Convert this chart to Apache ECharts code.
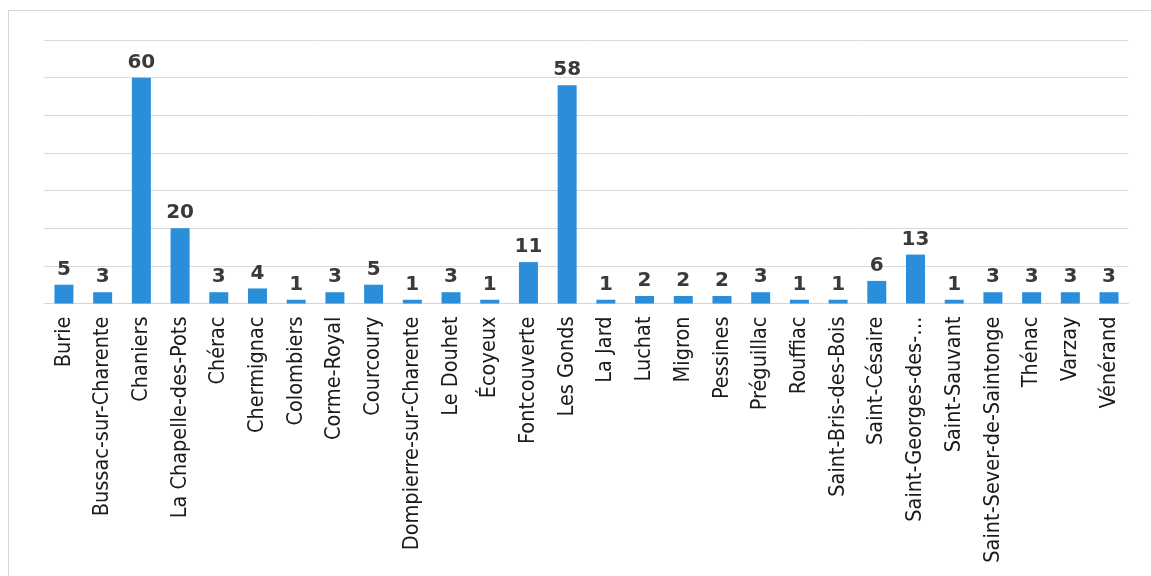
<!DOCTYPE html>
<html>
<head>
<meta charset="utf-8">
<script src="https://cdn.jsdelivr.net/npm/echarts@6/dist/echarts.min.js"></script>
<style>
  html, body { margin: 0; padding: 0; background: #ffffff; }
  #wrap { position: relative; width: 1151px; height: 576px; overflow: hidden; background: #ffffff; }
  #frame { position: absolute; left: 8px; top: 10px; width: 1150px; height: 580px; border: 1px solid #d6d6df; box-sizing: border-box; }
  #chart { position: absolute; left: 0; top: 0; width: 1151px; height: 576px; }
</style>
</head>
<body>
<div id="wrap">
  <div id="frame"></div>
  <div id="chart"></div>
</div>
<script>
// Communes and their counts
const communes = [
  'Burie', 'Bussac-sur-Charente', 'Chaniers', 'La Chapelle-des-Pots', 'Chérac',
  'Chermignac', 'Colombiers', 'Corme-Royal', 'Courcoury', 'Dompierre-sur-Charente',
  'Le Douhet', 'Écoyeux', 'Fontcouverte', 'Les Gonds', 'La Jard', 'Luchat',
  'Migron', 'Pessines', 'Préguillac', 'Rouffiac', 'Saint-Bris-des-Bois',
  'Saint-Césaire', 'Saint-Georges-des-…', 'Saint-Sauvant', 'Saint-Sever-de-Saintonge',
  'Thénac', 'Varzay', 'Vénérand'
];
const counts = [
  5, 3, 60, 20, 3,
  4, 1, 3, 5, 1,
  3, 1, 11, 58, 1, 2,
  2, 2, 3, 1, 1,
  6, 13, 1, 3,
  3, 3, 3
];
const yMin = 0;
const yMax = 70;
const yStep = 10;

const chart = echarts.init(document.getElementById('chart'), null, { renderer: 'canvas' });
chart.setOption({
  backgroundColor: 'transparent',
  animation: false,
  grid: {
    left: 44.6, right: 22.6, top: 40, bottom: 272.5,
    containLabel: false,
    outerBoundsMode: 'none'
  },
  xAxis: {
    type: 'category',
    data: communes,
    axisLine: { show: true, lineStyle: { color: '#d4d4d4', width: 1 } },
    axisTick: { show: false },
    axisLabel: {
      interval: 0,
      rotate: 90,
      margin: 13,
      color: '#1a1a1a',
      fontFamily: '"Liberation Sans Narrow", "DejaVu Sans Condensed", sans-serif',
      fontSize: 21.5
    }
  },
  yAxis: {
    type: 'value',
    min: yMin,
    max: yMax,
    interval: yStep,
    axisLine: { show: false },
    axisTick: { show: false },
    axisLabel: { show: false },
    splitLine: { show: true, lineStyle: { color: '#d9d9d9', width: 1 } }
  },
  series: [{
    type: 'bar',
    data: counts,
    barWidth: 19,
    itemStyle: { color: '#2b8edb' },
    label: {
      show: true,
      position: 'top',
      distance: 5,
      color: '#3a3a3a',
      fontFamily: '"DejaVu Sans", Verdana, sans-serif',
      fontWeight: 'bold',
      fontSize: 20
    }
  }]
});
</script>
</body>
</html>
